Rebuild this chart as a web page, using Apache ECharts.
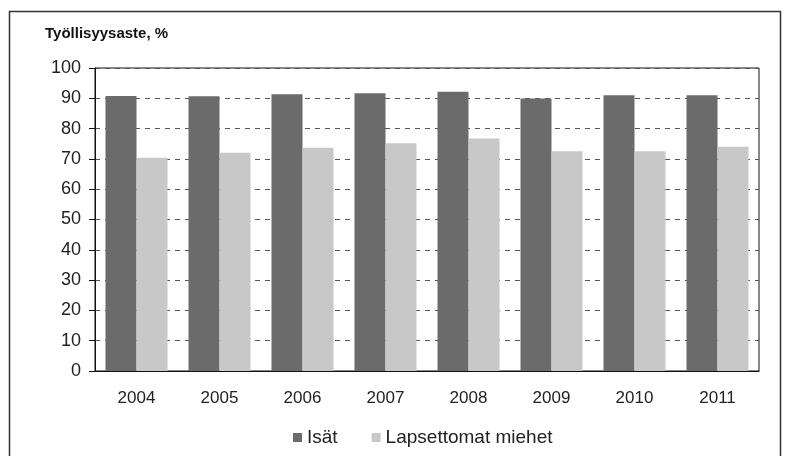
<!DOCTYPE html>
<html><head><meta charset="utf-8">
<script src="https://cdn.jsdelivr.net/npm/echarts@6/dist/echarts.min.js"></script>
<style>html,body{margin:0;padding:0;background:#fff}#c{width:785px;height:456px}</style>
</head><body><div id="c"></div>
<script>
const years = ['2004','2005','2006','2007','2008','2009','2010','2011'];
const isat = [90.8, 90.7, 91.3, 91.7, 92.2, 89.9, 91.0, 91.0];
const lapsettomat = [70.4, 72.0, 73.7, 75.2, 76.7, 72.5, 72.5, 74.0];
const seriesNames = ['Isät', 'Lapsettomat miehet'];
const titleText = 'Työllisyysaste, %';

const font = 'Liberation Sans';
const chart = echarts.init(document.getElementById('c'));
chart.setOption({
  animation: false,
  backgroundColor: '#fff',
  graphic: [{
    type: 'rect', shape: {x: 9.5, y: 11.5, width: 771, height: 470},
    style: {fill: 'none', stroke: '#333', lineWidth: 1.5}
  }],
  title: {
    text: titleText, left: 40, top: 21,
    textStyle: {fontFamily: font, fontSize: 15, fontWeight: 'bold', color: '#111'}
  },
  legend: {
    data: seriesNames, bottom: 4, left: 288, icon: 'rect',
    itemWidth: 9, itemHeight: 9, itemGap: 34,
    textStyle: {fontFamily: font, fontSize: 19, color: '#222', padding: [0, 0, 0, 0]}
  },
  grid: {left: 95, right: 26, top: 68, bottom: 85, show: true, borderColor: '#111', borderWidth: 1},
  xAxis: {
    type: 'category', data: years,
    axisLine: {lineStyle: {color: '#111', width: 1}},
    axisTick: {show: false},
    axisLabel: {fontFamily: font, fontSize: 17, color: '#222', margin: 19}
  },
  yAxis: {
    type: 'value', min: 0, max: 100, interval: 10,
    axisLine: {show: true, lineStyle: {color: '#111', width: 1}},
    axisTick: {show: true, length: 6, lineStyle: {color: '#111'}},
    axisLabel: {fontFamily: font, fontSize: 18, color: '#222', margin: 14},
    splitLine: {show: true, lineStyle: {color: '#555', type: [5, 5], width: 1}}
  },
  series: [
    {name: seriesNames[0], type: 'bar', data: isat, barWidth: 31, barGap: '0%',
     itemStyle: {color: '#6b6b6b'}},
    {name: seriesNames[1], type: 'bar', data: lapsettomat, barWidth: 31,
     itemStyle: {color: '#c8c8c8'}}
  ]
});
</script></body></html>
